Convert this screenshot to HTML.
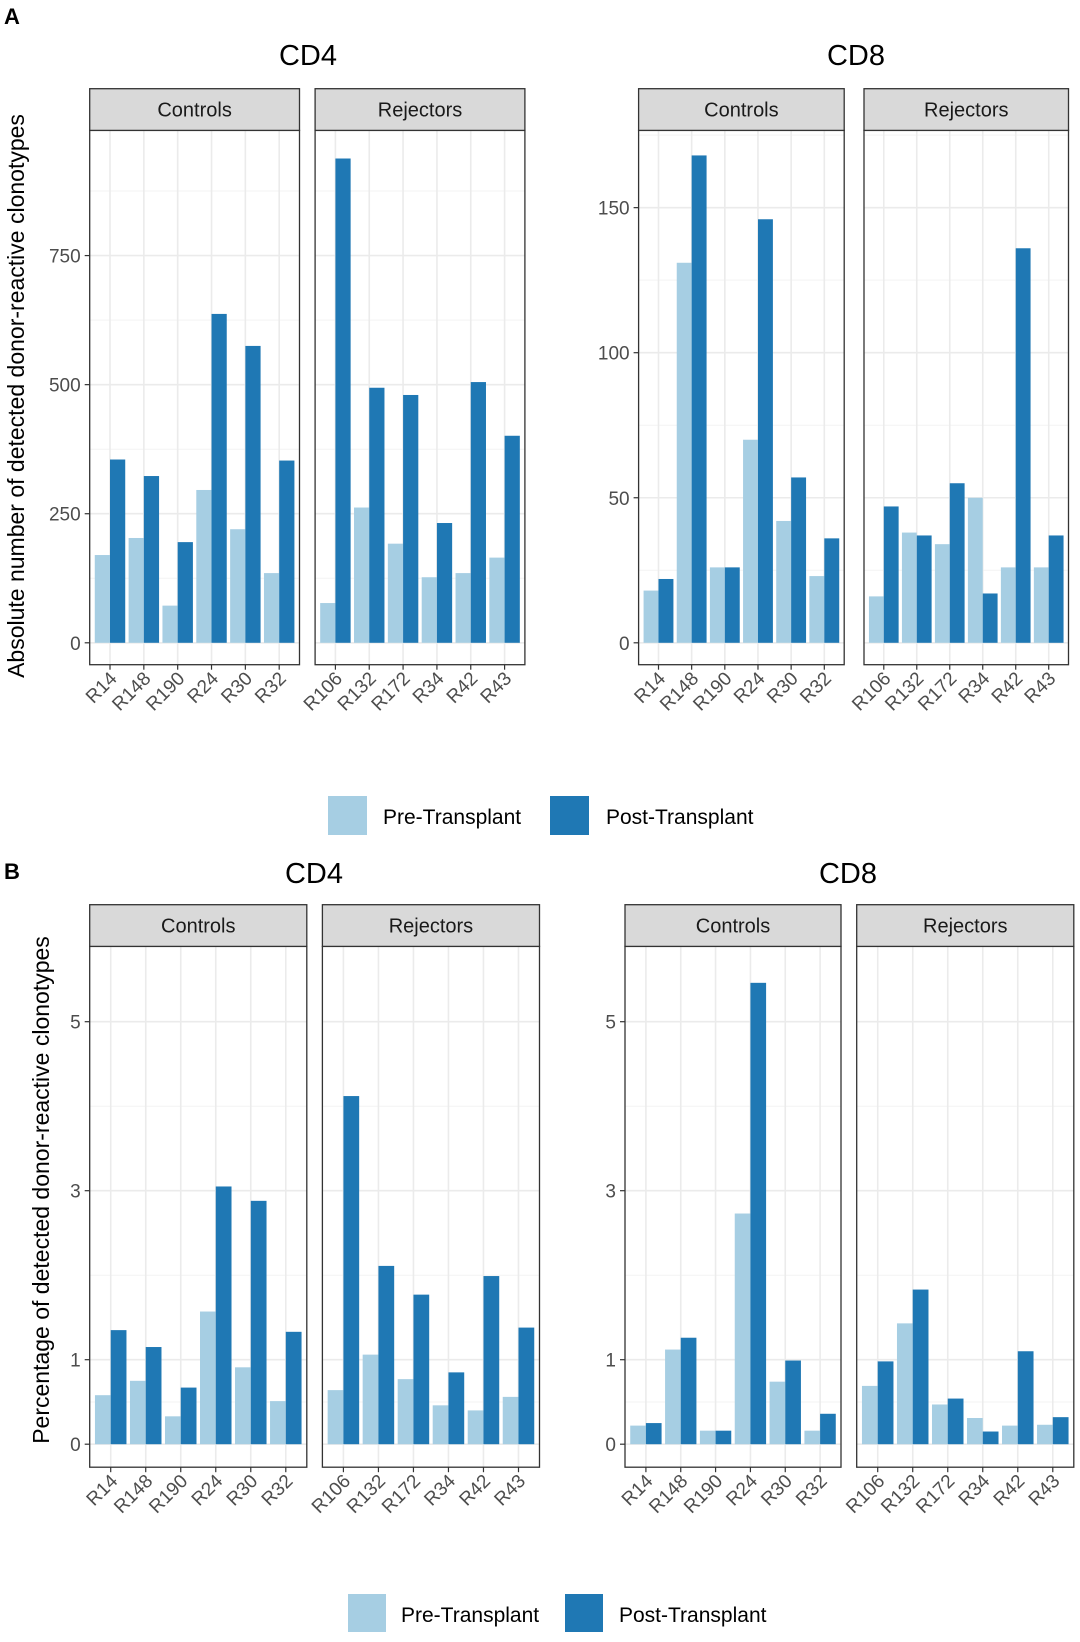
<!DOCTYPE html>
<html><head><meta charset="utf-8"><style>
html,body{margin:0;padding:0;background:#fff;}
svg{display:block;font-family:"Liberation Sans",sans-serif;}
</style></head><body>
<svg id="chart" width="1080" height="1642" viewBox="0 0 1080 1642" xmlns="http://www.w3.org/2000/svg">
<text x="4" y="24" font-size="22" font-weight="bold">A</text>
<text x="4" y="879" font-size="22" font-weight="bold">B</text>
<text x="308" y="65" font-size="29" text-anchor="middle">CD4</text>
<text x="856" y="65" font-size="29" text-anchor="middle">CD8</text>
<text x="314" y="883" font-size="29" text-anchor="middle">CD4</text>
<text x="848" y="883" font-size="29" text-anchor="middle">CD8</text>
<text transform="translate(24,396) rotate(-90)" font-size="23" text-anchor="middle">Absolute number of detected donor-reactive clonotypes</text>
<text transform="translate(49,1190) rotate(-90)" font-size="23" text-anchor="middle">Percentage of detected donor-reactive clonotypes</text>
<g>
<rect x="328" y="796" width="39" height="39" fill="#a6cee3"/>
<text x="383" y="824" font-size="21">Pre-Transplant</text>
<rect x="550" y="796" width="39" height="39" fill="#1f78b4"/>
<text x="606" y="824" font-size="21">Post-Transplant</text>
</g>
<g>
<rect x="348" y="1594" width="38" height="38" fill="#a6cee3"/>
<text x="401" y="1622" font-size="21">Pre-Transplant</text>
<rect x="565" y="1594" width="38" height="38" fill="#1f78b4"/>
<text x="619" y="1622" font-size="21">Post-Transplant</text>
</g>
</svg>
<script>
const ctrlCats = ["R14","R148","R190","R24","R30","R32"];
const rejCats = ["R106","R132","R172","R34","R42","R43"];
const aCd4CtrlPre = [170,203,72,296,220,135];
const aCd4CtrlPost = [355,323,195,637,575,353];
const aCd4RejPre = [77,262,192,127,135,165];
const aCd4RejPost = [938,494,480,232,505,401];
const aCd8CtrlPre = [18,131,26,70,42,23];
const aCd8CtrlPost = [22,168,26,146,57,36];
const aCd8RejPre = [16,38,34,50,26,26];
const aCd8RejPost = [47,37,55,17,136,37];
const bCd4CtrlPre = [0.58,0.75,0.33,1.57,0.91,0.51];
const bCd4CtrlPost = [1.35,1.15,0.67,3.05,2.88,1.33];
const bCd4RejPre = [0.64,1.06,0.77,0.46,0.40,0.56];
const bCd4RejPost = [4.12,2.11,1.77,0.85,1.99,1.38];
const bCd8CtrlPre = [0.22,1.12,0.16,2.73,0.74,0.16];
const bCd8CtrlPost = [0.25,1.26,0.16,5.46,0.99,0.36];
const bCd8RejPre = [0.69,1.43,0.47,0.31,0.22,0.23];
const bCd8RejPost = [0.98,1.83,0.54,0.15,1.10,0.32];
const aCd4Ticks = [0,250,500,750];
const aCd4Minor = [125,375,625,875];
const aCd8Ticks = [0,50,100,150];
const aCd8Minor = [25,75,125,175];
const bTicks = [0,1,3,5];
const bMinor = [0.5,2,4];

const svg = document.getElementById('chart');
const NS = 'http://www.w3.org/2000/svg';
function mk(tag, attrs, parent){
  const e = document.createElementNS(NS, tag);
  for (const k in attrs) e.setAttribute(k, attrs[k]);
  (parent||svg).appendChild(e);
  return e;
}
function facet(name, x0, x1, top, stripH, bottom, zero, ppu, cats, pre, post, ticks, minor, strip, showY){
  const g = mk('g', {});
  
  
  const plotTop = top + stripH;
  const yS = v => zero - v * ppu;
  const xS = i => x0 + (i + 1 - 0.4) / 6.2 * (x1 - x0);
  const bw = 0.45 / 6.2 * (x1 - x0);
  minor.forEach(v => { const y = yS(v); if (y > plotTop) mk('line', {x1:x0,x2:x1,y1:y,y2:y,stroke:'#f3f3f3','stroke-width':1}, g); });
  ticks.forEach(v => { const y = yS(v); mk('line', {x1:x0,x2:x1,y1:y,y2:y,stroke:'#ebebeb','stroke-width':1.6}, g); });
  cats.forEach((c,i) => { const x = xS(i); mk('line', {x1:x,x2:x,y1:plotTop,y2:bottom,stroke:'#ebebeb','stroke-width':1.6}, g); });
  cats.forEach((c,i) => {
    const x = xS(i);
    const r1 = mk('rect', {x:x-bw, y:yS(pre[i]), width:bw, height:zero-yS(pre[i]), fill:'#a6cee3'}, g);
    
    
    const r2 = mk('rect', {x:x, y:yS(post[i]), width:bw, height:zero-yS(post[i]), fill:'#1f78b4'}, g);
    
    
    mk('line', {x1:x,x2:x,y1:bottom,y2:bottom+5,stroke:'#333','stroke-width':1.2}, g);
    const t = mk('text', {x:0,y:0,'font-size':19,fill:'#4d4d4d','text-anchor':'end',transform:'translate('+(x+8)+','+(bottom+15)+') rotate(-45)'}, g);
    t.textContent = c;
    
    
  });
  mk('rect', {x:x0,y:plotTop,width:x1-x0,height:bottom-plotTop,fill:'none',stroke:'#333','stroke-width':1.3}, g);
  const s = mk('rect', {x:x0,y:top,width:x1-x0,height:stripH,fill:'#d9d9d9',stroke:'#333','stroke-width':1.3}, g);
  
  
  const st = mk('text', {x:(x0+x1)/2,y:top+stripH/2+7,'font-size':20,'text-anchor':'middle',fill:'#1a1a1a'}, g);
  st.textContent = strip;
  
  
  if (showY) {
    ticks.forEach(v => {
      const y = yS(v);
      mk('line', {x1:x0-5,x2:x0,y1:y,y2:y,stroke:'#333','stroke-width':1.2}, g);
      const t = mk('text', {x:x0-9,y:y+7,'font-size':19,fill:'#4d4d4d','text-anchor':'end'}, g);
      t.textContent = v;
      
      
    });
  }
}
facet('a-cd4-controls', 89.7, 299.5, 88.7, 41.7, 664.7, 642.8, 0.5163, ctrlCats, aCd4CtrlPre, aCd4CtrlPost, aCd4Ticks, aCd4Minor, 'Controls', true);
facet('a-cd4-rejectors', 315.1, 524.9, 88.7, 41.7, 664.7, 642.8, 0.5163, rejCats, aCd4RejPre, aCd4RejPost, aCd4Ticks, aCd4Minor, 'Rejectors', false);
facet('a-cd8-controls', 638.6, 844.2, 88.7, 41.7, 664.7, 642.8, 2.901, ctrlCats, aCd8CtrlPre, aCd8CtrlPost, aCd8Ticks, aCd8Minor, 'Controls', true);
facet('a-cd8-rejectors', 864, 1068.5, 88.7, 41.7, 664.7, 642.8, 2.901, rejCats, aCd8RejPre, aCd8RejPost, aCd8Ticks, aCd8Minor, 'Rejectors', false);
facet('b-cd4-controls', 89.7, 306.8, 904.7, 41.7, 1467.2, 1444.2, 84.5, ctrlCats, bCd4CtrlPre, bCd4CtrlPost, bTicks, bMinor, 'Controls', true);
facet('b-cd4-rejectors', 322.4, 539.5, 904.7, 41.7, 1467.2, 1444.2, 84.5, rejCats, bCd4RejPre, bCd4RejPost, bTicks, bMinor, 'Rejectors', false);
facet('b-cd8-controls', 625, 841, 904.7, 41.7, 1467.2, 1444.2, 84.5, ctrlCats, bCd8CtrlPre, bCd8CtrlPost, bTicks, bMinor, 'Controls', true);
facet('b-cd8-rejectors', 856.7, 1073.8, 904.7, 41.7, 1467.2, 1444.2, 84.5, rejCats, bCd8RejPre, bCd8RejPost, bTicks, bMinor, 'Rejectors', false);
</script>
</body></html>
